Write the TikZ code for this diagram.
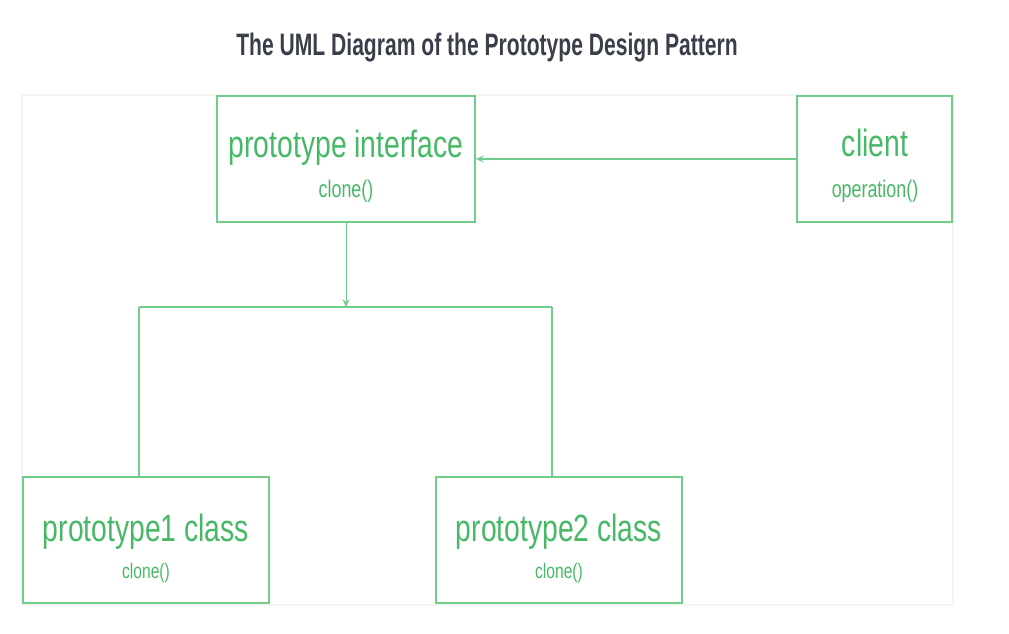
\documentclass[tikz,border=0pt]{standalone}
\usepackage{fontspec}
\setmainfont{Liberation Sans}
\newfontfamily\condfont[FakeStretch=0.745]{Liberation Sans}
\newfontfamily\titlefont[FakeStretch=0.68]{Liberation Sans Bold}
\usetikzlibrary{arrows.meta}
\definecolor{txtgreen}{RGB}{70,184,102}
\definecolor{boxgreen}{RGB}{112,205,138}
\definecolor{titlegray}{RGB}{58,62,74}
\definecolor{cardedge}{RGB}{244,244,244}
\tikzset{
  classbox/.style={draw=boxgreen, line width=1.6pt, minimum width=#1, minimum height=126pt, inner sep=0pt},
  bigtxt/.style={text=txtgreen, font=\condfont\fontsize{38}{40}\selectfont, anchor=base, inner sep=0pt},
  midtxt/.style={text=txtgreen, font=\condfont\fontsize{24}{26}\selectfont, anchor=base, inner sep=0pt},
  smalltxt/.style={text=txtgreen, font=\condfont\fontsize{21}{23}\selectfont, anchor=base, inner sep=0pt},
  link/.style={draw=boxgreen, line width=1.6pt},
  tip/.style={-{Stealth[length=8pt,width=7pt,inset=3pt]}}
}
\begin{document}
\begin{tikzpicture}[x=1pt,y=-1pt]
\useasboundingbox (0,0) rectangle (1009,634);
% card
\draw[cardedge, line width=2pt] (22,95) rectangle (953,605);
% title
\node[text=titlegray, font=\titlefont\fontsize{31}{33}\selectfont, anchor=base, inner sep=0pt] (title) at (487,56) {The UML Diagram of the Prototype Design Pattern};
% boxes
\node[classbox=258pt] (iface) at (346,159) {};
\node[classbox=155pt] (client) at (874.5,159) {};
\node[classbox=246pt] (p1) at (146,540) {};
\node[classbox=246pt] (p2) at (559,540) {};
% texts
\node[bigtxt] (ifaceT) at (346,157) {prototype interface};
\node[midtxt] (ifaceM) at (346,197) {clone()};
\node[bigtxt] (clientT) at (875,156) {client};
\node[midtxt] (clientM) at (875,197) {operation()};
\node[bigtxt] (p1T) at (146,541) {prototype1 class};
\node[smalltxt] (p1M) at (146,578) {clone()};
\node[bigtxt] (p2T) at (559,541) {prototype2 class};
\node[smalltxt] (p2M) at (559,578) {clone()};
% connectors
\coordinate (junc) at (346,307);
\coordinate (left) at (139,307);
\coordinate (right) at (552,307);
\draw[link, tip] (client.west) -- (iface.east);
\draw[draw=boxgreen, line width=1pt, tip] (iface.south) -- (junc);
\draw[link] (left) -- (right);
\draw[link] (left) -- (left |- p1.north);
\draw[link] (right) -- (right |- p2.north);
\end{tikzpicture}
\end{document}
